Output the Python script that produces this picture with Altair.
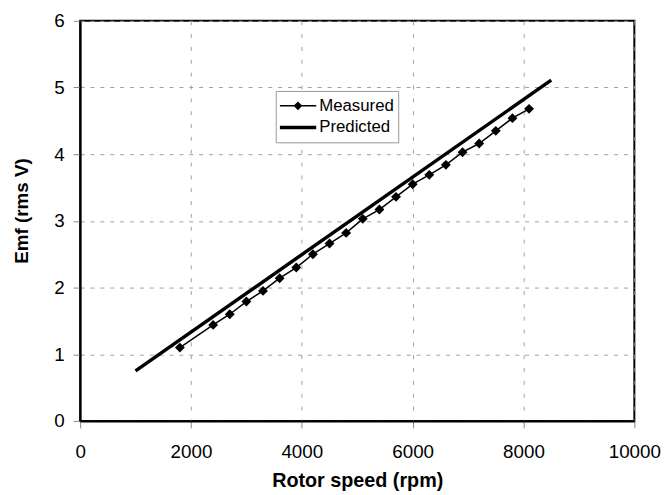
import altair as alt
import pandas as pd

# ---- data ----
rpm_measured = [1800, 2400, 2700, 3000, 3300, 3600, 3900, 4200, 4500, 4800, 5100,
                5400, 5700, 6000, 6300, 6600, 6900, 7200, 7500, 7800, 8100]
emf_measured = [1.10, 1.44, 1.60, 1.79, 1.95, 2.14, 2.30, 2.50, 2.66, 2.82, 3.03,
                3.17, 3.36, 3.55, 3.69, 3.84, 4.03, 4.16, 4.35, 4.54, 4.68]
rpm_predicted = [1000, 8500]
emf_predicted = [0.75, 5.11]
series_names = ["Measured", "Predicted"]
x_ticks = [0, 2000, 4000, 6000, 8000, 10000]
y_ticks = [0, 1, 2, 3, 4, 5, 6]

measured = pd.DataFrame({"rpm": rpm_measured, "emf": emf_measured, "series": "Measured"})
predicted = pd.DataFrame({"rpm": rpm_predicted, "emf": emf_predicted, "series": "Predicted"})
both = pd.concat([measured, predicted], ignore_index=True)

FONT = "Liberation Sans"

x = alt.X("rpm:Q",
          scale=alt.Scale(domain=[0, 10000], nice=False, zero=False),
          axis=alt.Axis(values=x_ticks, title="Rotor speed (rpm)", format="d",
                        gridDash=[4, 9], labelPadding=15, titlePadding=9,
                        titleFontSize=20, labelFlush=False, labelOverlap=False))
y = alt.Y("emf:Q",
          scale=alt.Scale(domain=[0, 6], nice=False),
          axis=alt.Axis(values=y_ticks, title="Emf (rms V)", format="d",
                        gridDash=[4, 6], labelPadding=9, titlePadding=23,
                        titleFontSize=19, titleY=192, labelFlush=False,
                        labelOverlap=False))

# legend symbol paths (line + diamond, thick line)
path_measured = ("M-1,-0.04L1,-0.04L1,0.04L-1,0.04Z "
                 "M0,-0.24L0.24,0L0,0.24L-0.24,0Z")
path_predicted = "M-1,-0.095L1,-0.095L1,0.095L-1,0.095Z"

legend_layer = alt.Chart(both).mark_point(filled=True, opacity=0, color="black").encode(
    x=x, y=y,
    shape=alt.Shape("series:N",
                    scale=alt.Scale(domain=series_names, range=[path_measured, path_predicted]),
                    legend=alt.Legend(title=None, orient="none", legendX=198, legendY=71,
                                      padding=4, clipHeight=22, rowPadding=0,
                                      symbolSize=1369, symbolStrokeWidth=0,
                                      symbolFillColor="black", symbolOpacity=1,
                                      labelFont=FONT, labelFontSize=17, labelColor="black",
                                      labelOffset=3, strokeColor="#999999",
                                      fillColor="white"))
)

pred_line = alt.Chart(predicted).mark_line(color="black", strokeWidth=3.5).encode(x=x, y=y)
meas_line = alt.Chart(measured).mark_line(color="black", strokeWidth=1.5).encode(x=x, y=y)
meas_pts = alt.Chart(measured).mark_point(shape="diamond", filled=True, color="black",
                                          size=100, opacity=1).encode(x=x, y=y)

chart = alt.layer(legend_layer, pred_line, meas_line, meas_pts).properties(
    width=561, height=405,
    autosize=alt.AutoSizeParams(type="none"),
    padding={"left": 73, "top": 10, "right": 29, "bottom": 72},
    background="white",
).configure_view(
    stroke="black", strokeWidth=2
).configure_axis(
    labelFont=FONT, labelFontSize=19, labelColor="black",
    titleFont=FONT, titleFontWeight="bold", titleColor="black",
    domainColor="black", domainWidth=2,
    tickColor="#888888", tickSize=7, tickWidth=1,
    gridColor="#a0a0a0", gridWidth=1,
)

chart.save("out.html", embed_options={"renderer": "svg", "actions": False})
